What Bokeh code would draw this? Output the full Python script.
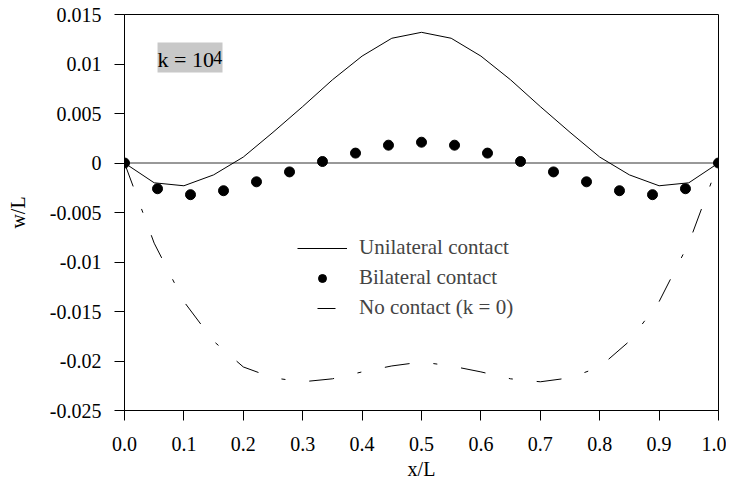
from bokeh.plotting import figure
from bokeh.models import (Range1d, FixedTicker, Span, Legend, LegendItem, Label,
                          BoxAnnotation, ColumnDataSource)
from bokeh.embed import file_html
from bokeh.resources import INLINE

# ---- data ----
x_uni = [0.00, 0.05, 0.10, 0.15, 0.20, 0.25, 0.30, 0.35, 0.40, 0.45, 0.50,
         0.55, 0.60, 0.65, 0.70, 0.75, 0.80, 0.85, 0.90, 0.95, 1.00]
w_uni = [0.0, -0.0020, -0.0023, -0.0012, 0.0006, 0.0031, 0.0057, 0.0084, 0.0108, 0.0126, 0.0132,
         0.0126, 0.0108, 0.0084, 0.0057, 0.0031, 0.0006, -0.0012, -0.0023, -0.0020, 0.0]

x_bil = [0.0, 0.0556, 0.1111, 0.1667, 0.2222, 0.2778, 0.3333, 0.3889, 0.4444, 0.5,
         0.5556, 0.6111, 0.6667, 0.7222, 0.7778, 0.8333, 0.8889, 0.9444, 1.0]
w_bil = [0.0, -0.0026, -0.0032, -0.0028, -0.0019, -0.0009, 0.00015, 0.0010, 0.0018, 0.0021,
         0.0018, 0.0010, 0.00015, -0.0009, -0.0019, -0.0028, -0.0032, -0.0026, 0.0]

x_none = x_uni
w_none = [0.0, -0.0081, -0.0140, -0.0180, -0.0206, -0.0217, -0.0221, -0.0218, -0.0211, -0.0205, -0.0201,
          -0.0205, -0.0211, -0.0218, -0.0221, -0.0217, -0.0206, -0.0180, -0.0140, -0.0081, 0.0]

x_ticks = [0.0, 0.1, 0.2, 0.3, 0.4, 0.5, 0.6, 0.7, 0.8, 0.9, 1.0]
x_tick_labels = ["0.0", "0.1", "0.2", "0.3", "0.4", "0.5", "0.6", "0.7", "0.8", "0.9", "1.0"]
y_ticks = [0.015, 0.01, 0.005, 0.0, -0.005, -0.01, -0.015, -0.02, -0.025]
y_tick_labels = ["0.015", "0.01", "0.005", "0", "-0.005", "-0.01", "-0.015", "-0.02", "-0.025"]

series_names = ["Unilateral contact", "Bilateral contact", "No contact (k = 0)"]
FONT = "Liberation Serif"

p = figure(frame_width=594, frame_height=396, output_backend="svg", toolbar_location=None,
           x_range=Range1d(0, 1), y_range=Range1d(-0.025, 0.015),
           min_border_left=124, min_border_top=14, min_border_right=8, min_border_bottom=60)
p.grid.visible = False
p.outline_line_color = "black"
p.outline_line_width = 1
p.background_fill_color = "white"

for ax in (p.xaxis[0], p.yaxis[0]):
    ax.axis_line_color = "black"
    ax.major_tick_line_color = "black"
    ax.minor_tick_line_color = None
    ax.major_tick_in = 0
    ax.major_tick_out = 10
    ax.major_label_text_font = FONT
    ax.major_label_text_font_size = "20px"
    ax.major_label_text_color = "black"
    ax.axis_label_text_font = FONT
    ax.axis_label_text_font_size = "20px"
    ax.axis_label_text_font_style = "normal"
    ax.axis_label_text_color = "black"

p.xaxis.ticker = FixedTicker(ticks=x_ticks)
p.xaxis.major_label_overrides = {t: l for t, l in zip(x_ticks, x_tick_labels)}
p.yaxis.ticker = FixedTicker(ticks=y_ticks)
p.yaxis.major_label_overrides = {t: l for t, l in zip(y_ticks, y_tick_labels)}
p.xaxis.axis_label = "x/L"
p.yaxis.axis_label = "w/L"
p.xaxis.major_label_standoff = 16
p.yaxis.major_label_standoff = 13
p.xaxis.axis_label_standoff = 4
p.yaxis.axis_label_standoff = 18

zero = Span(location=0, dimension="width", line_color="#333333", line_width=1, level="underlay")
p.add_layout(zero)

r_uni = p.line(x_uni, w_uni, line_color="black", line_width=1)
r_none = p.line(x_none, w_none, line_color="black", line_width=1, line_dash="25 24 4 24")
r_bil = p.scatter(x_bil, w_bil, size=10, color="black", marker="circle")

# legend-only sample for the dashed series (draws nothing in the plot area)
leg_src = ColumnDataSource(data=dict(x=[float("nan")], y=[float("nan")]))
r_none_leg = p.line("x", "y", source=leg_src, line_color="black", line_width=1,
                    line_dash="18 200", line_dash_offset=198)

legend = Legend(items=[LegendItem(label=series_names[0], renderers=[r_uni]),
                       LegendItem(label=series_names[1], renderers=[r_bil]),
                       LegendItem(label=series_names[2], renderers=[r_none_leg])],
                location=(173, 90), padding=0, spacing=5, glyph_width=50, glyph_height=20,
                label_height=20, label_standoff=12, label_text_font=FONT,
                label_text_font_size="21px", border_line_alpha=0, background_fill_alpha=0,
                margin=0)
p.add_layout(legend)

box = BoxAnnotation(left=0.0556, right=0.165, bottom=0.00914, top=0.01217,
                    fill_color="#c8c8c8", fill_alpha=1, line_alpha=0)
p.add_layout(box)
p.add_layout(Label(x=0.0556, y=0.01045, text="k = 10", text_font=FONT, text_font_size="22px",
                   text_baseline="alphabetic", text_color="black"))
p.add_layout(Label(x=0.1495, y=0.0107, text="4", text_font=FONT, text_font_size="18px",
                   text_baseline="alphabetic", text_color="black"))

open("out.html", "w").write(file_html(p, INLINE))
